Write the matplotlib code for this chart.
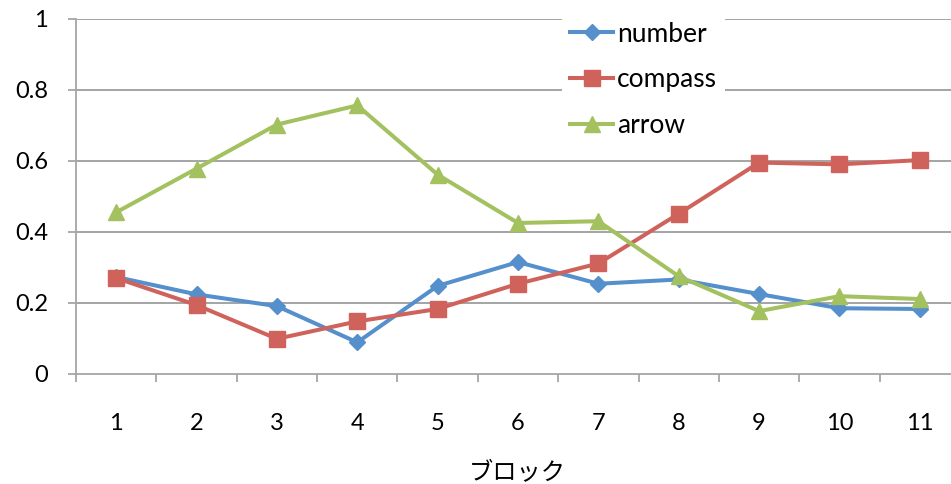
import matplotlib
matplotlib.use("Agg")
import matplotlib.pyplot as plt
from matplotlib.ticker import FixedLocator, NullFormatter

# data
blocks = [1, 2, 3, 4, 5, 6, 7, 8, 9, 10, 11]
block_labels = [str(b) for b in blocks]
number = [0.273, 0.224, 0.191, 0.089, 0.248, 0.315, 0.254, 0.266, 0.225, 0.185, 0.183]
compass = [0.270, 0.194, 0.099, 0.148, 0.183, 0.254, 0.311, 0.451, 0.595, 0.590, 0.602]
arrow = [0.455, 0.578, 0.702, 0.756, 0.561, 0.425, 0.430, 0.275, 0.177, 0.219, 0.211]
y_ticks = [0, 0.2, 0.4, 0.6, 0.8, 1.0]
y_labels = ["0", "0.2", "0.4", "0.6", "0.8", "1"]

plt.rcParams['font.family'] = ['Lato', 'Noto Sans CJK JP', 'DejaVu Sans']

fig = plt.figure(figsize=(9.51, 4.84), dpi=100)
# plot area runs past the right edge, as in the reference
ax = fig.add_axes([0.0799, 0.2273, 0.9296, 0.7341])

grid_col = "#8c8c8c"
axis_col = "#a6a6a6"

for v in y_ticks[1:]:
    ax.axhline(v, color=grid_col, lw=1.1, zorder=1)

ax.plot(blocks, number, color="#5590cc", lw=2.9, marker="D", ms=8.3,
        label="number", zorder=3)
ax.plot(blocks, compass, color="#d0625c", lw=2.9, marker="s", ms=11,
        label="compass", zorder=3)
ax.plot(blocks, arrow, color="#a3c15f", lw=2.9, marker="^", ms=12,
        label="arrow", zorder=3)

ax.set_xlim(0.5, 11.5)
ax.set_ylim(0, 1)

for s in ["top", "right"]:
    ax.spines[s].set_visible(False)
for s in ["left", "bottom"]:
    ax.spines[s].set_color(axis_col)
    ax.spines[s].set_linewidth(1.3)

ax.set_yticks(y_ticks)
ax.set_yticklabels(y_labels)
ax.tick_params(axis="y", direction="out", length=6, width=1.3, color=axis_col,
               pad=14, labelsize=17)

# tick marks between categories, labels at the centres
ax.xaxis.set_major_locator(FixedLocator([b + 0.5 for b in [0] + blocks]))
ax.xaxis.set_major_formatter(NullFormatter())
ax.xaxis.set_minor_locator(FixedLocator(blocks))
ax.set_xticklabels(block_labels, minor=True)
ax.tick_params(axis="x", which="major", direction="out", length=6, width=1.3,
               color=axis_col)
ax.tick_params(axis="x", which="minor", length=0, pad=28, labelsize=17)

fig.text(517 / 951, 1 - 472 / 484, "ブロック", ha="center", va="center", fontsize=17.5)

leg = ax.legend(loc="upper left", bbox_to_anchor=(0.591, 0.9715),
                bbox_transform=fig.transFigure, fontsize=19, frameon=True,
                fancybox=False, edgecolor="none", facecolor="white",
                framealpha=1, borderpad=0.3, borderaxespad=0,
                handlelength=1.65, handletextpad=0.12, labelspacing=0.78)
leg.set_zorder(5)

fig.savefig("out.png", dpi=100)
